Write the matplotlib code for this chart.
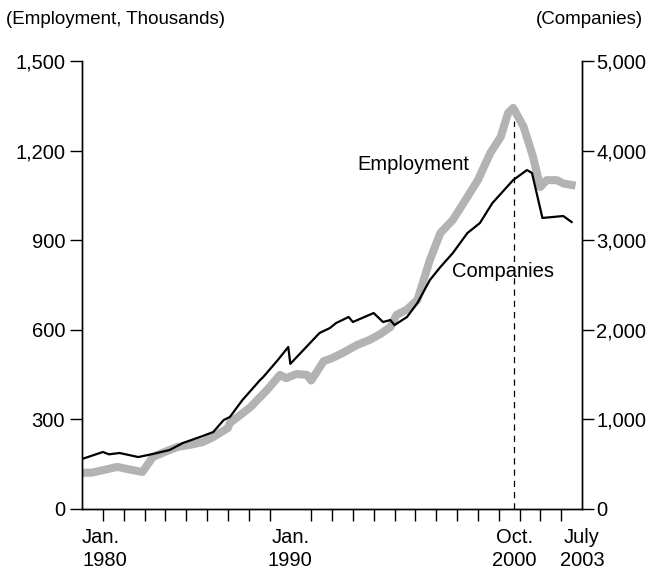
import matplotlib
matplotlib.use("Agg")
import matplotlib.pyplot as plt

plt.rcParams['font.family'] = ['Liberation Sans', 'DejaVu Sans']

# Employment (thousands), left axis
emp_years = [1980.0, 1980.5, 1981.0, 1981.7, 1982.3, 1982.9, 1983.4, 1984.0, 1984.6, 1985.2,
             1985.8, 1986.3, 1987.0, 1987.1, 1987.9, 1988.1, 1988.9, 1989.5, 1989.8, 1990.3,
             1990.8, 1991.0, 1991.6, 1992.0, 1992.5, 1993.2, 1993.8, 1994.3, 1994.8, 1995.1,
             1995.6, 1996.1, 1996.7, 1997.2, 1997.8, 1998.5, 1999.0, 1999.6, 2000.1, 2000.45,
             2000.7, 2001.2, 2001.65, 2002.0, 2002.3, 2002.8, 2003.1, 2003.5]
employment = [121, 122, 130, 141, 132, 124, 174, 192, 208, 215,
              224, 241, 271, 288, 331, 342, 400, 449, 438, 452,
              449, 430, 495, 505, 522, 549, 566, 585, 609, 650,
              668, 700, 834, 924, 968, 1045, 1101, 1192, 1246, 1326,
              1343, 1279, 1179, 1078, 1101, 1101, 1090, 1085]

# Number of companies, right axis
comp_years = [1980.0, 1981.0, 1981.3, 1981.8, 1982.7, 1983.4, 1984.2, 1984.85, 1985.8, 1986.3,
              1986.8, 1987.1, 1987.7, 1988.55, 1988.7, 1989.4, 1989.9, 1990.0, 1991.4, 1991.9,
              1992.2, 1992.8, 1993.0, 1994.0, 1994.45, 1994.8, 1995.0, 1995.6, 1996.1, 1996.7,
              1997.2, 1997.8, 1998.5, 1999.1, 1999.7, 2000.7, 2001.36, 2001.6, 2002.1, 2002.6,
              2003.1, 2003.5]
companies = [558, 636, 610, 625, 580, 614, 658, 737, 815, 859,
             993, 1027, 1216, 1440, 1473, 1663, 1808, 1620, 1964, 2020,
             2076, 2143, 2087, 2187, 2087, 2109, 2053, 2143, 2299, 2556,
             2700, 2857, 3080, 3192, 3415, 3672, 3783, 3750, 3248, 3259,
             3270, 3203]

xlabels = ["Jan.\n1980", "Jan.\n1990", "Oct.\n2000", "July\n2003"]
xlabel_pos = [1980, 1990, 2000.75, 2004]

fig = plt.figure(figsize=(6.52, 5.71), dpi=100)
ax = fig.add_axes([82 / 652, 1 - 509 / 571, 500 / 652, 448 / 571])
ax2 = ax.twinx()

ax.plot(emp_years, employment, color='#b3b3b3', lw=5.8, solid_joinstyle='round', zorder=2)
ax2.plot(comp_years, companies, color='black', lw=1.6, zorder=3)
ax.vlines(2000.75, 0, 1300, colors='black', linestyles=(0, (5, 4)), lw=0.9, zorder=1)

ax.set_xlim(1980, 2004)
ax.set_ylim(0, 1500)
ax2.set_ylim(0, 5000)

ax.set_yticks(range(0, 1501, 300))
ax.set_yticklabels([f"{v:,}" for v in range(0, 1501, 300)])
ax2.set_yticks(range(0, 5001, 1000))
ax2.set_yticklabels([f"{v:,}" for v in range(0, 5001, 1000)])

ax.set_xticks(range(1980, 2005), minor=True)
ax.set_xticks(xlabel_pos)
ax.set_xticklabels(xlabels, linespacing=1.25)
ax.get_xticklabels()[0].set_ha('left')

ax.tick_params(axis='x', which='major', length=0, pad=14, labelsize=14.5)
ax.tick_params(axis='x', which='minor', length=8.6, width=1, color='black')
ax.tick_params(axis='y', length=8.6, width=1, pad=3.5, labelsize=14.5)
ax2.tick_params(axis='y', length=8.6, width=1, pad=1.5, labelsize=14.5)

for a in (ax, ax2):
    a.spines['top'].set_visible(False)
    for s in ('left', 'right', 'bottom'):
        a.spines[s].set_linewidth(1)

fig.text(6 / 652, 1 - 20 / 571, "(Employment, Thousands)", fontsize=13.5, va='center', ha='left')
fig.text(643 / 652, 1 - 20 / 571, "(Companies)", fontsize=13.5, va='center', ha='right')

ax.text(1993.2, 1155, "Employment", fontsize=14.5, ha='left', va='center')
ax2.text(1997.75, 2650, "Companies", fontsize=14.5, ha='left', va='center')

fig.savefig("out.png", dpi=100)
